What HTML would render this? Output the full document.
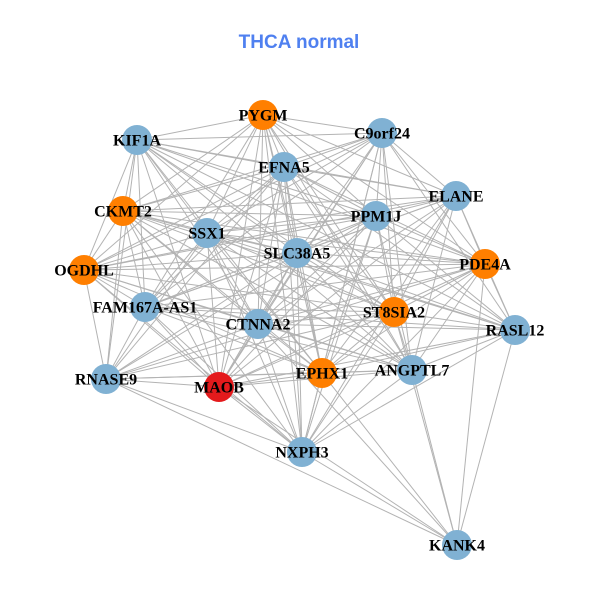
<!DOCTYPE html>
<html><head><meta charset="utf-8"><style>
html,body{margin:0;padding:0;background:#fff;}
svg{display:block;}
.t{font-family:"Liberation Serif",serif;font-weight:bold;font-size:16px;fill:#000;text-anchor:middle;}
</style></head><body>
<svg width="600" height="600" viewBox="0 0 600 600" xmlns="http://www.w3.org/2000/svg">
<rect width="600" height="600" fill="#fff"/>
<text x="299" y="48" text-anchor="middle" style="font-family:'Liberation Sans',sans-serif;font-weight:bold;font-size:19px;fill:#4f80f0">THCA normal</text>
<g id="edges" stroke="#b3b3b3" stroke-width="1" fill="none"></g>
<g id="nodes"></g>
<script>
var N=[
["PYGM",263,115,"o"],["KIF1A",137,140,"b"],["C9orf24",382,133,"b"],["EFNA5",284,167,"b"],
["ELANE",456,196,"b"],["CKMT2",123,211,"o"],["PPM1J",376,216,"b"],["SSX1",207,233,"b"],
["SLC38A5",297,253,"b"],["PDE4A",485,264,"o"],["OGDHL",84,270,"o"],["FAM167A-AS1",145,307,"b"],
["ST8SIA2",394,312,"o"],["CTNNA2",258,324,"b"],["RASL12",515,330,"b"],["RNASE9",106,379,"b"],
["MAOB",219,387,"r"],["EPHX1",322,373,"o"],["ANGPTL7",412,370,"b"],["NXPH3",302,452,"b"],["KANK4",457,545,"b"]];
var E={0:[1,2,3,4,5,6,7,8,9,10,11,12,13,16,17,18,19],
1:[2,3,4,5,6,7,8,9,10,11,12,13,14,15,16,17,18],
2:[3,4,5,6,7,8,9,10,11,12,13,14,16,17,18,19],
3:[4,5,6,7,8,9,10,11,12,13,14,15,16,17,18,19],
4:[5,6,7,8,9,10,11,12,13,14,16,17,18,19],
5:[6,7,8,9,10,11,12,13,14,15,16,17,18,19],
6:[7,8,9,10,11,12,13,14,15,16,17,18,19],
7:[8,9,10,11,12,13,14,15,16,17,18,19],
8:[9,10,11,12,13,14,15,16,17,18,19],
9:[10,11,12,13,14,15,16,17,18,19,20],
10:[11,12,13,15,16,17,18,19],
11:[12,13,14,15,16,17,18,19],
12:[13,14,15,16,17,18,19,20],
13:[14,15,16,17,18,19,20],
14:[16,17,18,19,20],
15:[16,17,18,19,20],
16:[17,18,19,20],
17:[18,19,20],
18:[19,20],
19:[20]};
var ns="http://www.w3.org/2000/svg";
var ge=document.getElementById("edges"),gn=document.getElementById("nodes");
for(var i in E){E[i].forEach(function(j){var l=document.createElementNS(ns,"line");
l.setAttribute("x1",N[i][1]);l.setAttribute("y1",N[i][2]);l.setAttribute("x2",N[j][1]);l.setAttribute("y2",N[j][2]);ge.appendChild(l);});}
var C={o:"#ff7f00",b:"#80b1d3",r:"#e41a1c"};
N.forEach(function(n){var c=document.createElementNS(ns,"circle");c.setAttribute("cx",n[1]);c.setAttribute("cy",n[2]);c.setAttribute("r",15);c.setAttribute("fill",C[n[3]]);gn.appendChild(c);});
N.forEach(function(n){var t=document.createElementNS(ns,"text");t.setAttribute("x",n[1]);t.setAttribute("y",n[2]+5.5);t.setAttribute("class","t");t.textContent=n[0];gn.appendChild(t);});
</script>
</svg>
</body></html>
